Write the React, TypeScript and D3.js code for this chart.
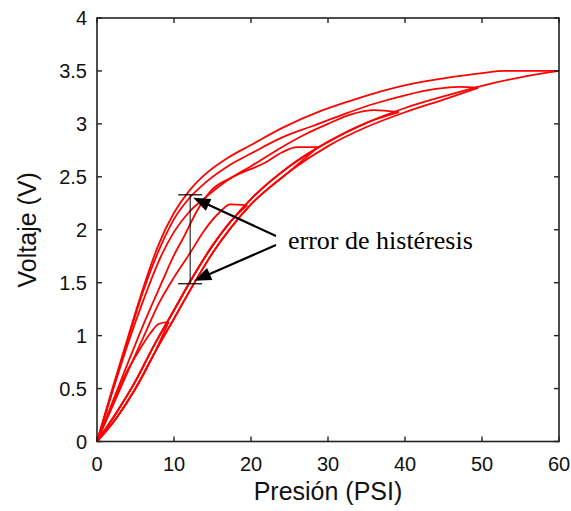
import React from 'react';
import * as d3 from 'd3';

const W = 571;
const H = 511;

const xTicks = [0, 10, 20, 30, 40, 50, 60];
const yTicks = [0, 0.5, 1, 1.5, 2, 2.5, 3, 3.5, 4];
const yTickLabels = ['0', '0.5', '1', '1.5', '2', '2.5', '3', '3.5', '4'];

const xLabel = 'Presión (PSI)';
const yLabel = 'Voltaje (V)';
const noteText = 'error de histéresis';

// loading (lower) branch: two traces making up the thick lower band
const loadP = [0, 2.5, 5, 7.5, 10, 12.5, 15, 17.5, 20, 25, 30, 35, 40, 45, 50, 55, 60];
const loadV1 = [0, 0.22, 0.5, 0.84, 1.16, 1.48, 1.78, 2.03, 2.24, 2.55, 2.79, 2.97, 3.11, 3.23, 3.33, 3.42, 3.5];
const loadV2 = [0, 0.27, 0.57, 0.92, 1.24, 1.56, 1.85, 2.09, 2.29, 2.6, 2.83, 3.01, 3.15, 3.26, 3.36, 3.44, 3.5];

// unloading branches, one per cycle peak
const un9P = [9.3, 8, 7, 5.3, 3.6, 2, 0];
const un9V = [1.13, 1.11, 1.03, 0.84, 0.62, 0.35, 0];

const un19P = [19.5, 17.3, 16, 14, 12, 10, 8, 6, 4, 2, 0];
const un19V = [2.23, 2.24, 2.17, 2.0, 1.77, 1.55, 1.3, 0.98, 0.66, 0.33, 0];

const un29P = [28.7, 26, 24, 22, 17.7, 14.7, 13, 11.4, 10, 8.4, 6, 4, 2, 0];
const un29V = [2.78, 2.78, 2.73, 2.64, 2.5, 2.36, 2.18, 1.95, 1.76, 1.5, 1.1, 0.74, 0.37, 0];

const un39P = [39.2, 36, 33, 30, 27, 24, 20, 17, 14, 12, 10, 8, 6, 4, 2, 0];
const un39V = [3.11, 3.13, 3.09, 3.0, 2.9, 2.78, 2.6, 2.47, 2.3, 2.17, 1.98, 1.7, 1.33, 0.92, 0.47, 0];

const un50P = [49.5, 47, 44, 40, 36, 32, 28, 24, 20, 17, 14, 12, 10, 8, 6, 4, 2, 0];
const un50V = [3.34, 3.35, 3.33, 3.27, 3.19, 3.09, 2.98, 2.87, 2.72, 2.6, 2.44, 2.3, 2.1, 1.8, 1.42, 0.96, 0.48, 0];

const un60P = [60, 53, 50, 45, 41, 37, 33, 29, 24, 20, 17, 14, 12, 10, 8, 6, 4, 2, 0];
const un60V = [3.5, 3.5, 3.48, 3.43, 3.38, 3.31, 3.22, 3.12, 2.96, 2.8, 2.68, 2.52, 2.37, 2.16, 1.86, 1.45, 0.98, 0.5, 0];

const unloads = [
  { p: un9P, v: un9V, trace: 1 },
  { p: un19P, v: un19V, trace: 2 },
  { p: un29P, v: un29V, trace: 1 },
  { p: un39P, v: un39V, trace: 2 },
  { p: un50P, v: un50V, trace: 1 },
  { p: un60P, v: un60V, trace: 2 },
];

// annotation: error bar at the 12 PSI reading
const errP = 12.1;
const errLow = 1.49;
const errHigh = 2.33;

export default function App() {
  const x = d3.scaleLinear().domain([0, 60]).range([97, 559]);
  const y = d3.scaleLinear().domain([0, 4]).range([441.5, 18]);

  const line = d3
    .line<[number, number]>()
    .x((d) => x(d[0]))
    .y((d) => y(d[1]))
    .curve(d3.curveMonotoneX);

  const paths: string[] = [];
  unloads.forEach((u) => {
    const lv = u.trace === 1 ? loadV1 : loadV2;
    const peak = u.p[0];
    const up: [number, number][] = [];
    loadP.forEach((p, i) => {
      if (p < peak - 0.3) up.push([p, lv[i]]);
    });
    up.push([u.p[0], u.v[0]]);
    paths.push(line(up) as string);
    const down: [number, number][] = u.p.map((p, i) => [p, u.v[i]] as [number, number]);
    down.sort((a, b) => a[0] - b[0]);
    paths.push(line(down) as string);
  });

  const L = x(0), R = x(60), T = y(4), B = y(0);
  const tickLen = 5;
  const font = 'Arial, "Liberation Sans", Helvetica, sans-serif';

  const ex = x(errP);
  const eyT = y(errHigh);
  const eyB = y(errLow);
  const capHalf = 12;

  const textX = 288;
  const textY = 249;
  const arrowStart1: [number, number] = [276, 236];
  const arrowStart2: [number, number] = [276, 245];
  const tip1: [number, number] = [ex + 3, eyT + 3];
  const tip2: [number, number] = [ex + 4, eyB - 3];

  const arrowHead = (from: [number, number], to: [number, number]) => {
    const dx = to[0] - from[0];
    const dy = to[1] - from[1];
    const len = Math.hypot(dx, dy);
    const ux = dx / len, uy = dy / len;
    const hl = 17, hw = 6.5;
    const bx = to[0] - ux * hl, by = to[1] - uy * hl;
    return `M${to[0]},${to[1]}L${bx - uy * hw},${by + ux * hw}L${bx + uy * hw},${by - ux * hw}Z`;
  };
  const shaftEnd = (from: [number, number], to: [number, number]) => {
    const dx = to[0] - from[0];
    const dy = to[1] - from[1];
    const len = Math.hypot(dx, dy);
    return [to[0] - (dx / len) * 12, to[1] - (dy / len) * 12];
  };
  const s1 = shaftEnd(arrowStart1, tip1);
  const s2 = shaftEnd(arrowStart2, tip2);

  return (
    <svg
      width={W}
      height={H}
      style={{ position: 'absolute', left: 0, top: 0, background: '#fff' }}
    >
      <rect x={0} y={0} width={W} height={H} fill="#fff" />
      {paths.map((d, i) => (
        <path key={i} d={d} fill="none" stroke="#ff0000" strokeWidth={1.8} />
      ))}

      {/* frame */}
      <rect x={L} y={T} width={R - L} height={B - T} fill="none" stroke="#222" strokeWidth={1.6} />
      {xTicks.map((t) => (
        <g key={'x' + t}>
          <line x1={x(t)} x2={x(t)} y1={B} y2={B - tickLen} stroke="#222" strokeWidth={1.4} />
          <line x1={x(t)} x2={x(t)} y1={T} y2={T + tickLen} stroke="#222" strokeWidth={1.4} />
          <text x={x(t)} y={B + 29} textAnchor="middle" fontFamily={font} fontSize={20} fill="#111">
            {t}
          </text>
        </g>
      ))}
      {yTicks.map((t, i) => (
        <g key={'y' + t}>
          <line x1={L} x2={L + tickLen} y1={y(t)} y2={y(t)} stroke="#222" strokeWidth={1.4} />
          <line x1={R} x2={R - tickLen} y1={y(t)} y2={y(t)} stroke="#222" strokeWidth={1.4} />
          <text x={L - 10} y={y(t) + 7} textAnchor="end" fontFamily={font} fontSize={20} fill="#111">
            {yTickLabels[i]}
          </text>
        </g>
      ))}

      <text x={(L + R) / 2} y={500} textAnchor="middle" fontFamily={font} fontSize={25} fill="#111">
        {xLabel}
      </text>
      <text
        transform={`translate(36,${(T + B) / 2}) rotate(-90)`}
        textAnchor="middle"
        fontFamily={font}
        fontSize={25}
        fill="#111"
      >
        {yLabel}
      </text>

      {/* error bar */}
      <line x1={ex} x2={ex} y1={eyT} y2={eyB} stroke="#000" strokeWidth={1} />
      <line x1={ex - capHalf} x2={ex + capHalf} y1={eyT} y2={eyT} stroke="#000" strokeWidth={1.2} />
      <line x1={ex - capHalf} x2={ex + capHalf} y1={eyB} y2={eyB} stroke="#000" strokeWidth={1.2} />

      {/* arrows */}
      <line x1={arrowStart1[0]} y1={arrowStart1[1]} x2={s1[0]} y2={s1[1]} stroke="#000" strokeWidth={2.2} />
      <path d={arrowHead(arrowStart1, tip1)} fill="#000" />
      <line x1={arrowStart2[0]} y1={arrowStart2[1]} x2={s2[0]} y2={s2[1]} stroke="#000" strokeWidth={2.2} />
      <path d={arrowHead(arrowStart2, tip2)} fill="#000" />

      <text x={textX} y={textY} fontFamily='"Liberation Serif", "Times New Roman", serif' fontSize={26} fill="#000">
        {noteText}
      </text>
    </svg>
  );
}
